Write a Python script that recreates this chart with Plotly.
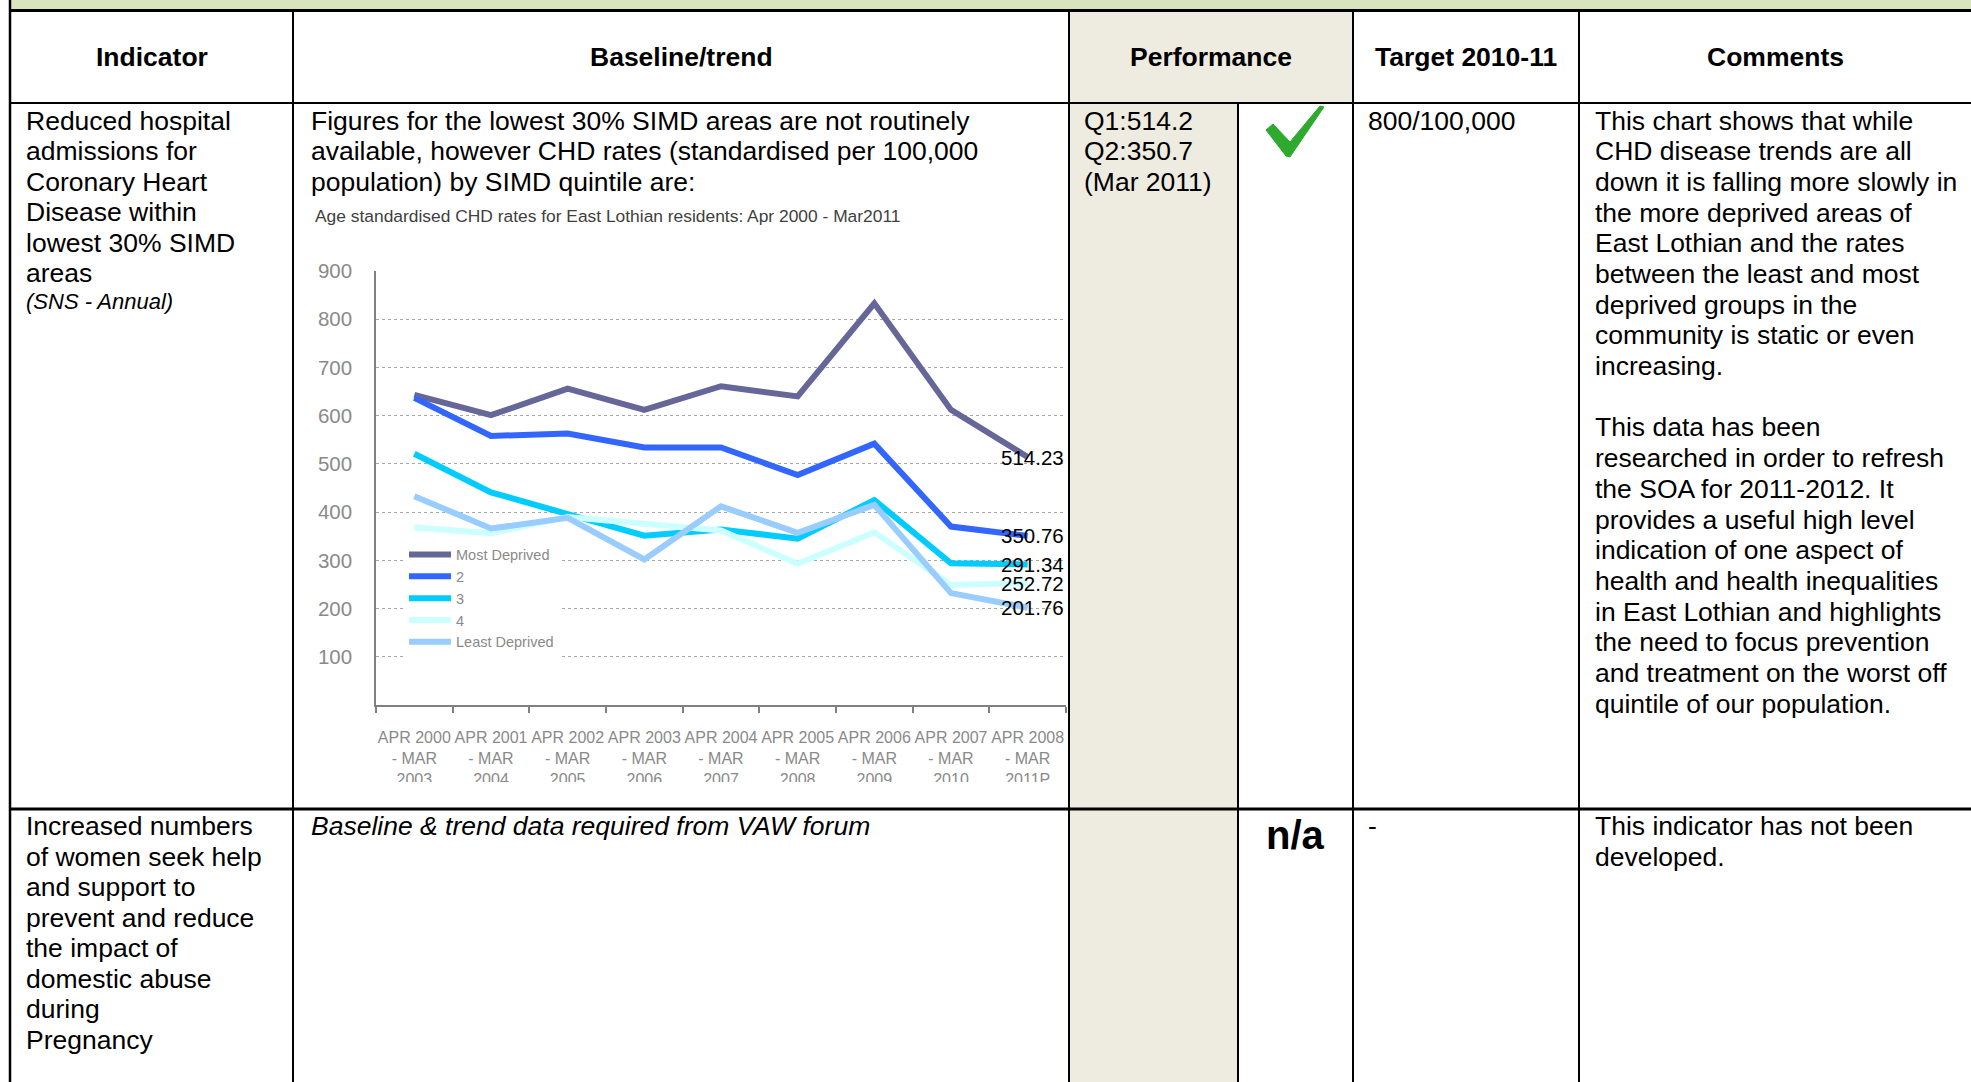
import plotly.graph_objects as go

# ---------------- data ----------------
CATEGORIES = ["APR 2000<br>- MAR<br>2003", "APR 2001<br>- MAR<br>2004", "APR 2002<br>- MAR<br>2005",
              "APR 2003<br>- MAR<br>2006", "APR 2004<br>- MAR<br>2007", "APR 2005<br>- MAR<br>2008",
              "APR 2006<br>- MAR<br>2009", "APR 2007<br>- MAR<br>2010", "APR 2008<br>- MAR<br>2011P"]
SERIES_NAMES = ["Most Deprived", "2", "3", "4", "Least Deprived"]
MOST_DEPRIVED = [643, 601, 656, 612, 661, 640, 833, 612, 514.23]
QUINTILE_2 = [637, 558, 563, 534, 534, 477, 542, 370, 350.76]
QUINTILE_3 = [521, 441, 396, 351, 364, 345, 425, 294, 291.34]
QUINTILE_4 = [368, 356, 390, 376, 362, 293, 358, 249, 252.72]
LEAST_DEPRIVED = [433, 366, 388, 302, 412, 357, 415, 232, 201.76]
Y_TICKS = [100, 200, 300, 400, 500, 600, 700, 800, 900]
CHART_TITLE = "Age standardised CHD rates for East Lothian residents: Apr 2000 - Mar2011"

HEADERS = ["Indicator", "Baseline/trend", "Performance", "Target 2010-11", "Comments"]
IND_ROW1 = ["Reduced hospital", "admissions for", "Coronary Heart", "Disease within",
            "lowest 30% SIMD", "areas"]
IND_ROW1_NOTE = "(SNS - Annual)"
BASE_ROW1 = ["Figures for the lowest 30% SIMD areas are not routinely",
             "available, however CHD rates (standardised per 100,000",
             "population) by SIMD quintile are:"]
PERF_ROW1 = ["Q1:514.2", "Q2:350.7", "(Mar 2011)"]
TARGET_ROW1 = "800/100,000"
COMMENT_ROW1 = ["This chart shows that while", "CHD disease trends are all",
                "down it is falling more slowly in", "the more deprived areas of",
                "East Lothian and the rates", "between the least and most",
                "deprived groups in the", "community is static or even", "increasing.", "",
                "This data has been", "researched in order to refresh",
                "the SOA for 2011-2012. It", "provides a useful high level",
                "indication of one aspect of", "health and health inequalities",
                "in East Lothian and highlights", "the need to focus prevention",
                "and treatment on the worst off", "quintile of our population."]
IND_ROW2 = ["Increased numbers", "of women seek help", "and support to", "prevent and reduce",
            "the impact of", "domestic abuse", "during", "Pregnancy"]
BASE_ROW2 = "Baseline &amp; trend data required from VAW forum"
PERF_ROW2 = "n/a"
TARGET_ROW2 = "-"
COMMENT_ROW2 = ["This indicator has not been", "developed."]

# ---------------- style ----------------
W, H = 1971, 1082
COLORS = ["#666699", "#3366FF", "#00CCFF", "#CCFFFF", "#99CCFF"]
TABLE_FONT = "Liberation Sans, Arial, sans-serif"
CHART_FONT = "Liberation Sans, Arial, sans-serif"
GREEN_BAND = "#d7e4bd"
BEIGE = "#eeece1"


def px(x):
    return x / W


def py(y):
    return 1 - y / H


fig = go.Figure()
for name, vals, col in zip(SERIES_NAMES,
                           [MOST_DEPRIVED, QUINTILE_2, QUINTILE_3, QUINTILE_4, LEAST_DEPRIVED],
                           COLORS):
    fig.add_trace(go.Scatter(x=CATEGORIES, y=vals, name=name, mode="lines",
                             line=dict(color=col, width=6), hoverinfo="skip"))

annotations = []

# end-of-series value labels
for vals in [MOST_DEPRIVED, QUINTILE_2, QUINTILE_3, QUINTILE_4, LEAST_DEPRIVED]:
    annotations.append(dict(x=px(1065), xref="paper", y=vals[-1], yref="y",
                            text=f"{vals[-1]:.2f}", showarrow=False, xanchor="right",
                            yanchor="middle", borderpad=0,
                            font=dict(family=CHART_FONT, size=20.5, color="#000000")))

# chart title
annotations.append(dict(x=px(314), y=py(215.5), xref="paper", yref="paper", text=CHART_TITLE,
                        showarrow=False, xanchor="left", yanchor="middle", borderpad=0,
                        font=dict(family=CHART_FONT, size=17.4, color="#404040")))


def add_text(x, y, text, size=26.5, bold=False, italic=False, anchor="left", color="#000000"):
    t = text
    if bold:
        t = f"<b>{t}</b>"
    if italic:
        t = f"<i>{t}</i>"
    annotations.append(dict(x=px(x), y=py(y), xref="paper", yref="paper", text=t,
                            showarrow=False, xanchor=anchor, yanchor="middle", borderpad=0,
                            font=dict(family=TABLE_FONT, size=size, color=color)))


# headers
header_centers = [151.5, 681, 1211, 1466, 1775]
for cx, h in zip(header_centers, HEADERS):
    add_text(cx, 57, h, bold=True, anchor="center")

LS = 30.55
LSC = 30.7
R1 = 120.5
for i, t in enumerate(IND_ROW1):
    add_text(25, R1 + i * LS, t)
add_text(25, 301.5, IND_ROW1_NOTE, size=22, italic=True)
for i, t in enumerate(BASE_ROW1):
    add_text(310, R1 + i * LS, t)
for i, t in enumerate(PERF_ROW1):
    add_text(1083, R1 + i * LS, t)
add_text(1367, R1, TARGET_ROW1)
for i, t in enumerate(COMMENT_ROW1):
    if t:
        add_text(1594, R1 + i * LSC, t)

R2 = 826
LS2 = 30.55
for i, t in enumerate(IND_ROW2):
    add_text(25, R2 + i * LS2, t)
add_text(310, R2, BASE_ROW2, italic=True)
add_text(1295, 835, PERF_ROW2, size=40, bold=True, anchor="center")
add_text(1367, R2, TARGET_ROW2)
for i, t in enumerate(COMMENT_ROW2):
    add_text(1594, R2 + i * LS2, t)

# ---------------- table shapes ----------------
shapes = []


def rect(x0, y0, x1, y1, color, layer="below"):
    shapes.append(dict(type="rect", xref="paper", yref="paper", x0=px(x0), x1=px(x1),
                       y0=py(y1), y1=py(y0), fillcolor=color, line=dict(width=0), layer=layer))


def hline(y, x0, x1, w):
    shapes.append(dict(type="line", xref="paper", yref="paper", x0=px(x0), x1=px(x1),
                       y0=py(y), y1=py(y), line=dict(color="#000000", width=w), layer="above"))


def vline(x, y0, y1, w):
    shapes.append(dict(type="line", xref="paper", yref="paper", x0=px(x), x1=px(x),
                       y0=py(y0), y1=py(y1), line=dict(color="#000000", width=w), layer="above"))


rect(11, 0, W, 9.5, GREEN_BAND)
rect(1069, 10, 1353, 103, BEIGE)
rect(1069, 103, 1238, H, BEIGE)
# clip of chart picture bottom
rect(296, 782, 1067, 807, "#ffffff", layer="above")

hline(10.5, 9, W, 3)
hline(103, 9, W, 2)
hline(809, 9, W, 3)
vline(10, 0, H, 2.5)
for x in [293, 1069, 1353, 1579]:
    vline(x, 10, H, 2)
vline(1238, 103, H, 2)

# check mark
CHECK = [(1266, 130), (1273, 124), (1290, 142), (1320, 106), (1324, 107), (1294, 151),
         (1290, 157), (1286, 156)]
path = "M " + " L ".join(f"{px(x):.5f},{py(y):.5f}" for x, y in CHECK) + " Z"
shapes.append(dict(type="path", xref="paper", yref="paper", path=path,
                   fillcolor="#2eaa2e", line=dict(color="#2eaa2e", width=1), layer="above"))

fig.update_layout(
    width=W, height=H, autosize=False,
    margin=dict(l=0, r=0, t=0, b=0, pad=0, autoexpand=False),
    paper_bgcolor="#ffffff", plot_bgcolor="#ffffff",
    showlegend=True,
    legend=dict(x=px(404), y=py(538.5), xanchor="left", yanchor="top", bgcolor="#ffffff",
                font=dict(family=CHART_FONT, size=14.5, color="#8a8a8a"), itemwidth=42,
                traceorder="normal", borderwidth=0, tracegroupgap=0),
    xaxis=dict(domain=[px(376), px(1066)], type="category", range=[-0.5, 8.5],
               showgrid=False, showline=True, linecolor="#808080", linewidth=1.5,
               ticks="outside", tickson="boundaries", ticklen=6, tickcolor="#808080",
               tickwidth=1.5, ticklabelstandoff=17, tickangle=0, automargin=False,
               tickfont=dict(family=CHART_FONT, size=16, color="#8a8a8a"), zeroline=False),
    yaxis=dict(domain=[py(705), py(271)], range=[0, 900], tickvals=Y_TICKS,
               showgrid=True, gridcolor="#a8a8a8", griddash="dot", gridwidth=1,
               showline=True, linecolor="#808080", linewidth=1.5, ticks="",
               ticklabelstandoff=18, zeroline=False, automargin=False,
               tickfont=dict(family=CHART_FONT, size=20.5, color="#8a8a8a")),
    annotations=annotations,
    shapes=shapes,
    hovermode=False,
)

POST = ("document.body.style.margin='0';document.body.style.padding='0';"
        "document.body.style.overflow='hidden';"
        "var gd=document.getElementById('{plot_id}');"
        "gd.style.position='absolute';gd.style.left='0px';gd.style.top='0px';")

fig.write_html("out.html", post_script=POST, config={"displayModeBar": False})
